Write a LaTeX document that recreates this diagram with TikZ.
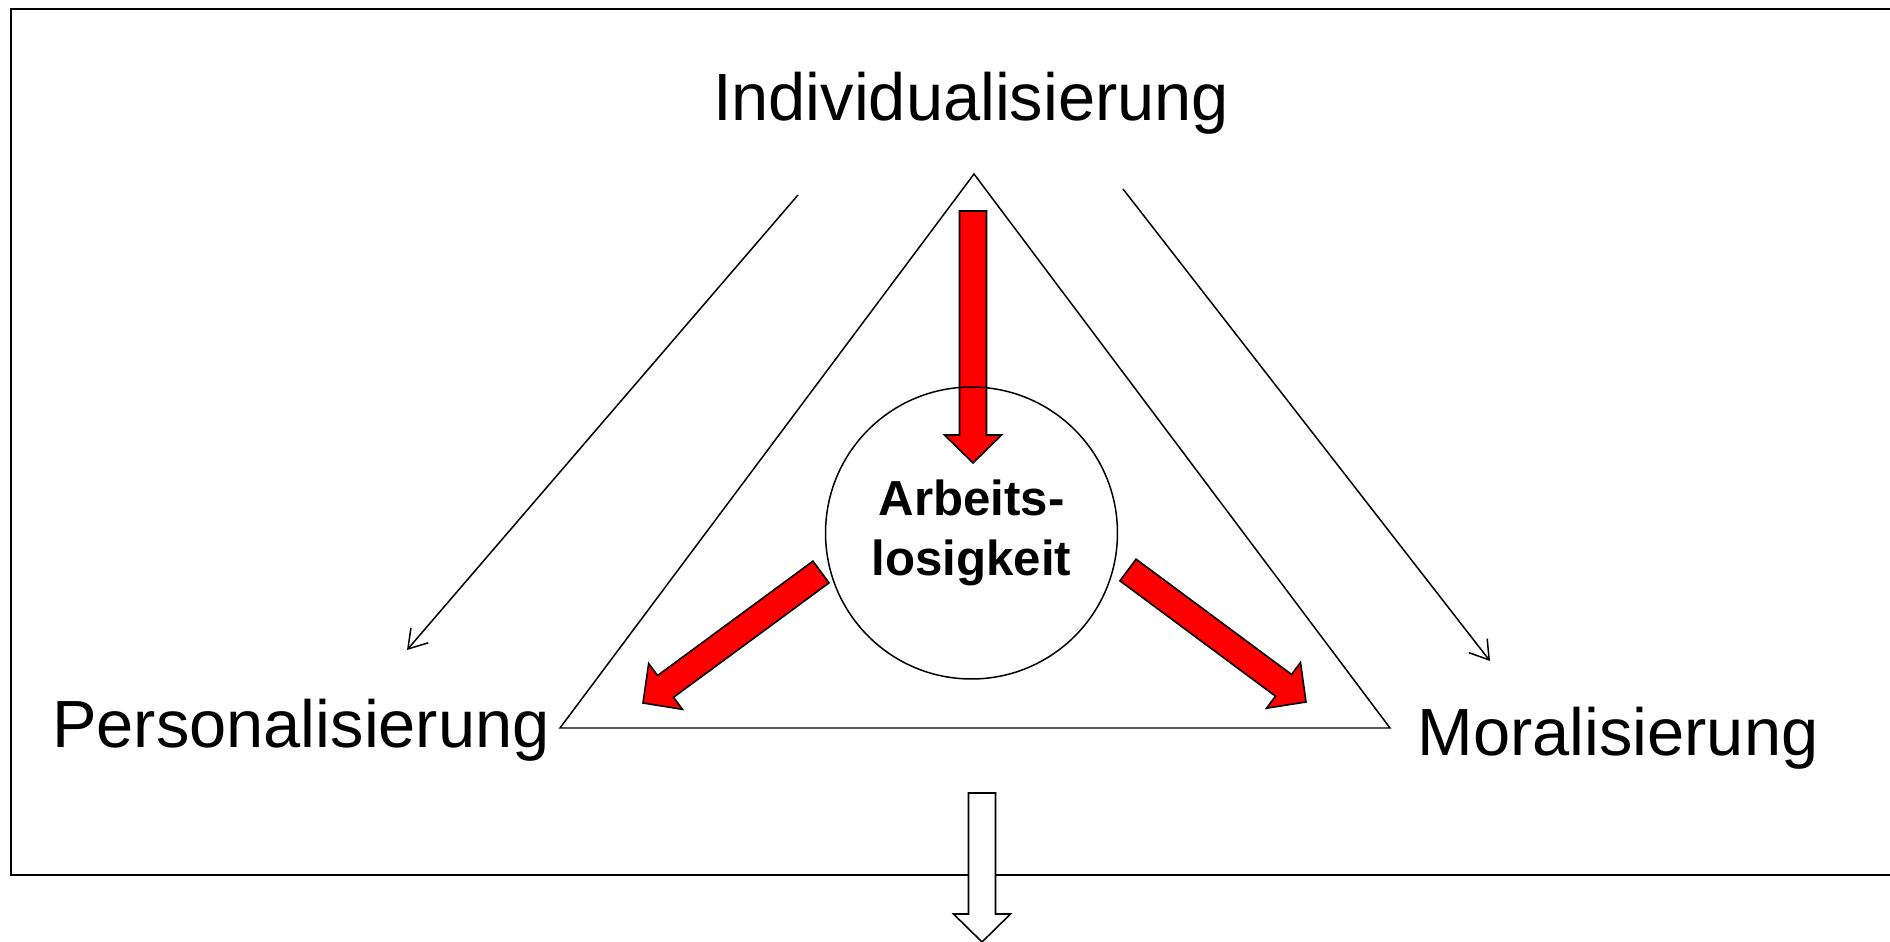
\documentclass[tikz,border=0pt]{standalone}
\usepackage{fontspec}
\setmainfont{Liberation Sans}
\usetikzlibrary{calc,arrows.meta}

% breiter Blockpfeil von #2 nach #3, gefuellt mit #1
\newcommand{\blockpfeil}[3]{%
	\coordinate (h) at ($(#3)!0.56cm!(#2)$);
	\filldraw[blockrand, fill=#1] ($(#2)!0.27cm!90:(#3)$) -- ($(h)!0.27cm!90:(#3)$) -- ($(h)!0.57cm!90:(#3)$) -- (#3)
		-- ($(h)!0.57cm!-90:(#3)$) -- ($(h)!0.27cm!-90:(#3)$) -- ($(#2)!0.27cm!-90:(#3)$) -- cycle;
}

\begin{document}
\begin{tikzpicture}[x=0.02cm, y=-0.02cm,
		gross/.style={font=\fontsize{38}{46}\selectfont, inner sep=0pt, anchor=base},
		fett/.style={font=\fontsize{28}{34}\selectfont\bfseries, align=center, inner sep=0pt},
		linie/.style={line width=0.85pt},
		pfeil/.style={line width=0.85pt, -{Straight Barb[length=3.6mm, width=4.6mm]}},
		blockrand/.style={line width=0.9pt, draw=black}]
		\useasboundingbox (0, 0) rectangle (1890, 942);
		\clip (0, 0) rectangle (1890, 942);
		\draw[line width=1.1pt] (11, 9) rectangle (1900, 875);

		\node[gross] (indiv) at (971, 121) {Individualisierung};
		\node[gross] (pers) at (301, 747) {Personalisierung};
		\node[gross] (moral) at (1618, 755) {Moralisierung};

		% Dreieck
		\coordinate (oben) at (974, 174);
		\coordinate (links) at (560, 728);
		\coordinate (rechts) at (1390, 728);
		\draw[linie] (oben) -- (links) -- (rechts) -- cycle;

		% duenne Pfeile
		\coordinate (lstart) at (798, 195);
		\coordinate (lende) at (407, 650);
		\coordinate (rstart) at (1123, 189);
		\coordinate (rende) at (1490, 661);
		\draw[pfeil] (lstart) -- (lende);
		\draw[pfeil] (rstart) -- (rende);

		% rote Pfeile
		\coordinate (ustart) at (973, 211);
		\coordinate (uende) at (973, 463);
		\coordinate (astart) at (821, 572);
		\coordinate (aende) at (643, 703);
		\coordinate (bstart) at (1128, 570);
		\coordinate (bende) at (1306, 702);
		\blockpfeil{red}{ustart}{uende}
		\blockpfeil{red}{astart}{aende}
		\blockpfeil{red}{bstart}{bende}

		\node[linie, draw, circle, minimum size=5.84cm, inner sep=0pt] (kreis) at (971.5, 533) {};
		\node[fett] (arbeit) at (kreis.center) {Arbeits-\\losigkeit};

		% Pfeil nach unten
		\coordinate (wstart) at (982, 793);
		\coordinate (wende) at (982, 942);
		\blockpfeil{white}{wstart}{wende}
	\end{tikzpicture}
\end{document}
